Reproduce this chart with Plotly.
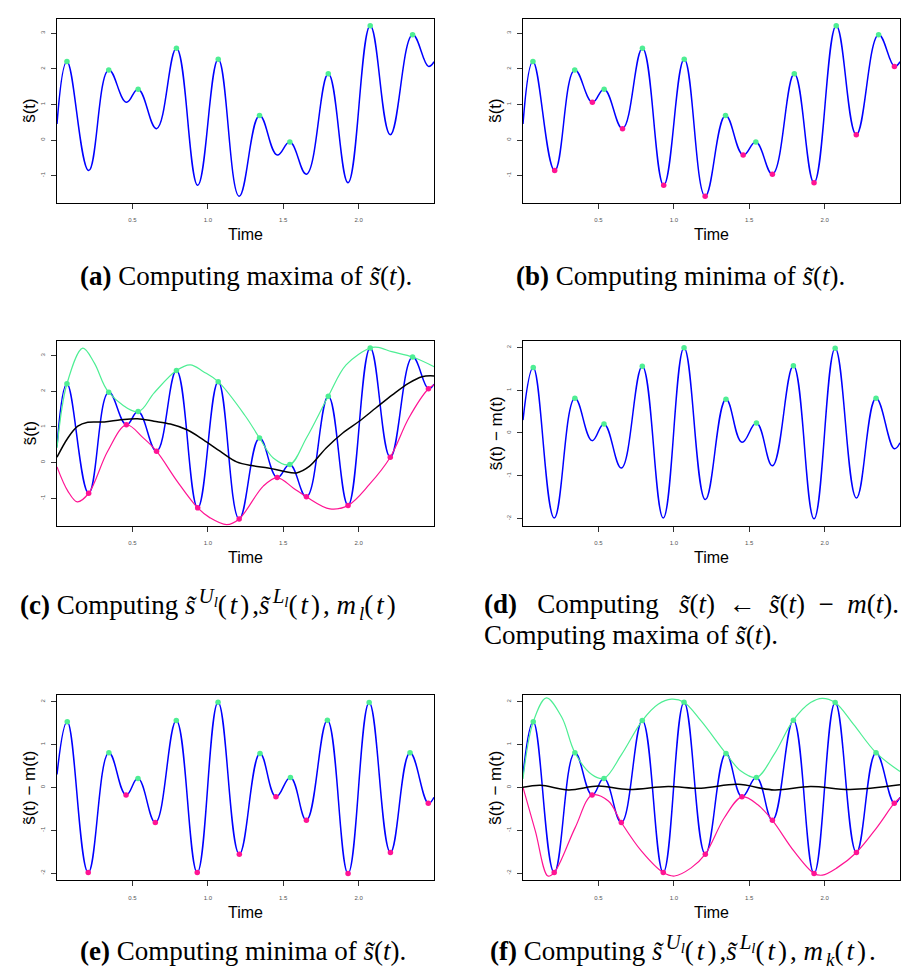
import plotly.graph_objects as go

W, H = 912, 967

# ---------------- data: signal s(t) (panels a, b, c) ----------------
s_max_t = [0.066, 0.343, 0.538, 0.792, 1.069, 1.343, 1.544, 1.799, 2.077, 2.358]
s_max_v = [2.21, 1.97, 1.43, 2.58, 2.27, 0.69, -0.056, 1.86, 3.215, 2.96]
s_min_t = [0.210, 0.460, 0.660, 0.933, 1.208, 1.460, 1.654, 1.930, 2.210, 2.463]
s_min_v = [-0.86, 1.06, 0.32, -1.27, -1.58, -0.42, -0.96, -1.20, 0.15, 2.07]
s_end_t = [0.0, 2.5]
s_end_v = [0.45, 2.20]

# upper envelope (c): extra points read between maxima
up_c_t = [0.0, 0.171, 0.248, 0.643, 0.884, 0.971, 1.25, 1.434, 1.654, 1.917, 2.13, 2.22, 2.5]
up_c_v = [0.41, 3.21, 2.79, 1.95, 2.74, 2.55, 1.30, 0.13, 0.69, 2.74, 3.23, 3.11, 2.69]
# lower envelope (c): extra points read between minima
lo_c_t = [0.0, 0.072, 0.134, 0.336, 0.57, 0.796, 1.015, 1.125, 1.368, 1.566, 1.81, 2.07, 2.333, 2.5]
lo_c_v = [-0.12, -0.80, -1.10, 0.32, 0.70, -0.52, -1.55, -1.74, -0.66, -0.71, -1.30, -0.62, 1.25, 2.18]
# mean envelope m_l(t) (c)
m_c_t = [0.0, 0.072, 0.138, 0.204, 0.314, 0.423, 0.533, 0.643, 0.752, 0.862, 0.971, 1.081, 1.191,
         1.30, 1.40, 1.50, 1.588, 1.675, 1.785, 1.895, 2.004, 2.114, 2.224, 2.333, 2.421, 2.5]
m_c_v = [0.15, 0.69, 1.02, 1.13, 1.14, 1.20, 1.23, 1.16, 1.08, 0.92, 0.64, 0.32, 0.02,
         -0.09, -0.15, -0.24, -0.29, -0.10, 0.41, 0.83, 1.16, 1.53, 1.90, 2.23, 2.41, 2.43]

# ---------------- data: s(t) - m(t) (panels d, e, f) ----------------
h_max_t = [0.068, 0.344, 0.537, 0.791, 1.068, 1.346, 1.548, 1.793, 2.070, 2.341]
h_max_v = [1.53, 0.81, 0.21, 1.56, 1.99, 0.79, 0.23, 1.57, 1.98, 0.81]
h_min_t = [0.207, 0.458, 0.652, 0.930, 1.209, 1.452, 1.654, 1.930, 2.211, 2.462]
h_min_v = [-1.99, -0.18, -0.82, -1.99, -1.56, -0.22, -0.77, -2.01, -1.52, -0.37]
h_end_t = [0.0, 2.5]
h_end_v = [0.30, -0.23]

up_f_t = [0.0, 0.155, 0.258, 0.456, 0.654, 0.896, 0.984, 1.181, 1.445, 1.665, 1.907, 1.984, 2.192, 2.5]
up_f_v = [0.20, 2.09, 1.63, 0.30, 0.77, 1.94, 2.06, 1.55, 0.38, 0.77, 1.98, 2.08, 1.47, 0.37]
lo_f_t = [0.0, 0.082, 0.165, 0.346, 0.566, 0.786, 1.005, 1.115, 1.335, 1.555,
          1.797, 1.985, 2.082, 2.346, 2.5]
lo_f_v = [0.0, -1.02, -2.07, -0.94, -0.32, -1.49, -2.07, -1.88, -0.71, -0.40,
          -1.49, -2.05, -1.88, -0.94, -0.24]
m_f_t = [0.0, 0.115, 0.302, 0.500, 0.698, 0.962, 1.181, 1.423, 1.665, 1.907, 2.170, 2.5]
m_f_v = [0.0, 0.05, -0.06, 0.03, -0.05, 0.02, -0.02, 0.07, -0.06, 0.02, -0.05, 0.06]

x_ticks = [0.5, 1.0, 1.5, 2.0]
x_tick_text = ["0.5", "1.0", "1.5", "2.0"]
y_ticks_s = [-1, 0, 1, 2, 3]
y_ticks_h = [-2, -1, 0, 1, 2]

BLUE = "#0000FF"
GREEN = "#4EEE94"
PINK = "#FF1493"


def merge(*pairs):
    pts = []
    for t, v in pairs:
        pts += list(zip(t, v))
    pts.sort(key=lambda p: p[0])
    return [p[0] for p in pts], [p[1] for p in pts]


s_t, s_v = merge((s_max_t, s_max_v), (s_min_t, s_min_v), (s_end_t, s_end_v))
h_t, h_v = merge((h_max_t, h_max_v), (h_min_t, h_min_v), (h_end_t, h_end_v))
uc_t, uc_v = merge((s_max_t, s_max_v), (up_c_t, up_c_v))
lc_t, lc_v = merge((s_min_t, s_min_v), (lo_c_t, lo_c_v))
uf_t, uf_v = merge((h_max_t, h_max_v), (up_f_t, up_f_v))
lf_t, lf_v = merge((h_min_t, h_min_v), (lo_f_t, lo_f_v))

fig = go.Figure()

# pixel boxes of each panel: (left, right), (top, bottom)
L = (49, 426)
R = (515, 892)
rows = [(10.7, 195.0), (333.0, 517.7), (687.3, 872.3)]
panels = [(L, rows[0]), (R, rows[0]), (L, rows[1]), (R, rows[1]), (L, rows[2]), (R, rows[2])]
s_range = [-1.77, 3.41]
h_range = [-2.17, 2.15]


def line(i, t, v, color, width, smooth=1.0):
    fig.add_trace(go.Scatter(x=t, y=v, mode="lines",
                             line=dict(color=color, width=width, shape="spline", smoothing=smooth),
                             xaxis=f"x{i}", yaxis=f"y{i}", hoverinfo="skip", showlegend=False))


def dots(i, t, v, color):
    fig.add_trace(go.Scatter(x=t, y=v, mode="markers", marker=dict(color=color, size=5.5),
                             xaxis=f"x{i}", yaxis=f"y{i}", hoverinfo="skip", showlegend=False))


SB = 1.2  # smoothing for the oscillating signal
# (a)
line(1, s_t, s_v, BLUE, 1.5, SB)
dots(1, s_max_t, s_max_v, GREEN)
# (b)
line(2, s_t, s_v, BLUE, 1.5, SB)
dots(2, s_max_t, s_max_v, GREEN)
dots(2, s_min_t, s_min_v, PINK)
# (c)
line(3, s_t, s_v, BLUE, 1.5, SB)
line(3, uc_t, uc_v, GREEN, 1.2)
line(3, lc_t, lc_v, PINK, 1.2)
line(3, m_c_t, m_c_v, "black", 1.5)
dots(3, s_max_t, s_max_v, GREEN)
dots(3, s_min_t, s_min_v, PINK)
# (d)
line(4, h_t, h_v, BLUE, 1.5, SB)
dots(4, h_max_t, h_max_v, GREEN)
# (e)
line(5, h_t, h_v, BLUE, 1.5, SB)
dots(5, h_max_t, h_max_v, GREEN)
dots(5, h_min_t, h_min_v, PINK)
# (f)
line(6, h_t, h_v, BLUE, 1.5, SB)
line(6, uf_t, uf_v, GREEN, 1.2)
line(6, lf_t, lf_v, PINK, 1.2)
line(6, m_f_t, m_f_v, "black", 1.5)
dots(6, h_max_t, h_max_v, GREEN)
dots(6, h_min_t, h_min_v, PINK)

AX_FONT = "Liberation Sans, Arial, sans-serif"
CAP_FONT = "Liberation Serif, Times New Roman, serif"
layout = {}
annotations = []
for k, ((xl, xr), (yt, yb)) in enumerate(panels, start=1):
    sfx = "" if k == 1 else str(k)
    yr = s_range if k <= 3 else h_range
    yt_vals = y_ticks_s if k <= 3 else y_ticks_h
    layout["xaxis" + sfx] = dict(
        domain=[xl / W, xr / W], range=[0, 2.5], anchor="y" + sfx,
        showline=True, mirror=True, linecolor="black", linewidth=1.2,
        showgrid=False, zeroline=False,
        tickmode="array", tickvals=x_ticks, ticktext=x_tick_text,
        ticks="outside", ticklen=5, tickwidth=1, tickcolor="#333",
        ticklabelstandoff=6,
        tickfont=dict(family=AX_FONT, size=6, color="#555"),
    )
    layout["yaxis" + sfx] = dict(
        domain=[1 - yb / H, 1 - yt / H], range=yr, anchor="x" + sfx,
        showline=True, mirror=True, linecolor="black", linewidth=1.2,
        showgrid=False, zeroline=False,
        tickmode="array", tickvals=yt_vals, ticktext=[str(v) for v in yt_vals],
        ticks="outside", ticklen=5, tickwidth=1, tickcolor="#333",
        ticklabelstandoff=4, tickangle=-90,
        tickfont=dict(family=AX_FONT, size=6, color="#555"),
    )
    cx = (xl + xr) / 2
    annotations.append(dict(text="Time", x=cx / W, y=1 - (yb + 32) / H, xref="paper", yref="paper",
                            showarrow=False, font=dict(family=AX_FONT, size=16, color="black"),
                            xanchor="center", yanchor="middle"))
    ylab = "s̃(t)" if k <= 3 else "s̃(t) − m(t)"
    annotations.append(dict(text=ylab, x=(xl - 27) / W, y=1 - ((yt + yb) / 2) / H, xref="paper", yref="paper",
                            showarrow=False, textangle=-90, font=dict(family=AX_FONT, size=17, color="black"),
                            xanchor="center", yanchor="middle"))

S = "<i>s̃</i>(<i>t</i>)"
LS = "<span style='letter-spacing:3px'>"


def env(letter):
    return (LS + "<i>s̃</i></span><sup><span style='font-size:21px'><i>" + letter +
            "</i></span><sub><span style='font-size:15px'><i>l</i></span></sub></sup>" +
            LS + "(<i>t</i>)</span>")


captions = [
    ("<b>(a)</b> Computing maxima of " + S + ".", 70, 268),
    ("<b>(b)</b> Computing minima of " + S + ".", 506, 268),
    ("<b>(c)</b> Computing " + env("U") + "," + env("L") + ", " + LS + "<i>m</i></span><sub><i>l</i></sub>"
     + LS + "(<i>t</i>)</span>", 10, 596),
    ("<b>(d)</b>   Computing   " + S + "  ←  " + S + "  −  <i>m</i>(<i>t</i>).", 474, 596),
    ("Computing maxima of " + S + ".", 474, 627),
    ("<b>(e)</b> Computing minima of " + S + ".", 70, 943),
    ("<b>(f)</b> Computing " + env("U") + "," + env("L") + ", " + LS + "<i>m</i></span><sub><i>k</i></sub>"
     + LS + "(<i>t</i>).</span>", 480, 942),
]
for txt, x, y in captions:
    annotations.append(dict(text=txt, x=x / W, y=1 - y / H, xref="paper", yref="paper", showarrow=False,
                            xanchor="left", yanchor="middle",
                            font=dict(family=CAP_FONT, size=27, color="black")))

fig.update_layout(
    width=W, height=H, margin=dict(l=0, r=0, t=0, b=0),
    paper_bgcolor="white", plot_bgcolor="white",
    annotations=annotations, showlegend=False,
    **layout,
)
fig.write_html("out.html")
